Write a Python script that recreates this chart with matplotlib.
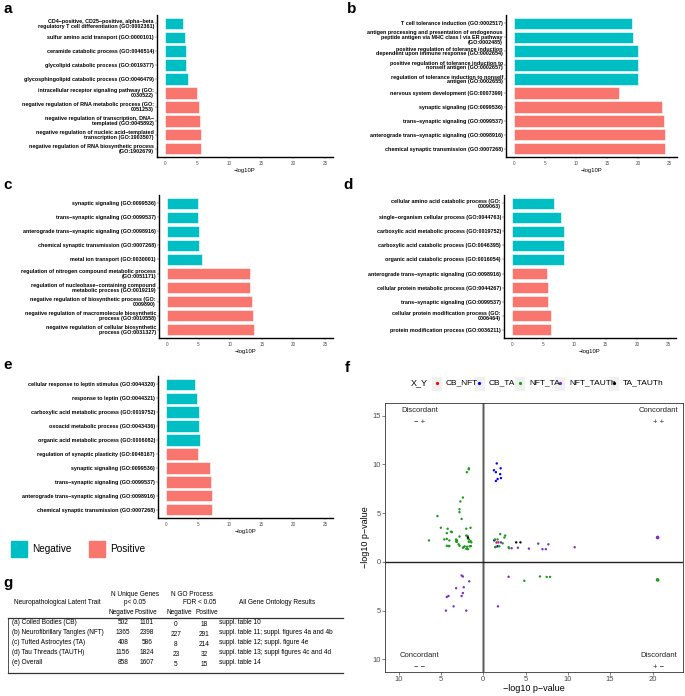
import numpy as np
import matplotlib

matplotlib.use("Agg")
import matplotlib.pyplot as plt
from matplotlib.patches import Rectangle
from matplotlib.lines import Line2D

plt.rcParams['font.family'] = ['Liberation Sans', 'DejaVu Sans']

# --- bar panel data (top to bottom), -log10P ---
labels_a = [
    "CD4\u2212positive, CD25\u2212positive, alpha\u2212beta\nregulatory T cell differentiation (GO:0002361)",
    "sulfur amino acid transport (GO:0000101)",
    "ceramide catabolic process (GO:0046514)",
    "glycolipid catabolic process (GO:0019377)",
    "glycosphingolipid catabolic process (GO:0046479)",
    "intracellular receptor signaling pathway (GO:\n0030522)",
    "negative regulation of RNA metabolic process (GO:\n0051253)",
    "negative regulation of transcription, DNA\u2212\ntemplated (GO:0045892)",
    "negative regulation of nucleic acid\u2212templated\ntranscription (GO:1903507)",
    "negative regulation of RNA biosynthetic process\n(GO:1902679)",
]
values_a = [2.8, 3.1, 3.35, 3.35, 3.55, 5.07, 5.28, 5.5, 5.55, 5.7]

labels_b = [
    "T cell tolerance induction (GO:0002517)",
    "antigen processing and presentation of endogenous\npeptide antigen via MHC class I via ER pathway\n(GO:0002485)",
    "positive regulation of tolerance induction\ndependent upon immune response (GO:0002654)",
    "positive regulation of tolerance induction to\nnonself antigen (GO:0002657)",
    "regulation of tolerance induction to nonself\nantigen (GO:0002655)",
    "nervous system development (GO:0007399)",
    "synaptic signaling (GO:0099536)",
    "trans\u2212synaptic signaling (GO:0099537)",
    "anterograde trans\u2212synaptic signaling (GO:0098916)",
    "chemical synaptic transmission (GO:0007268)",
]
values_b = [18.95, 19.2, 20.0, 20.0, 20.0, 17.0, 23.9, 24.15, 24.3, 24.3]

labels_c = [
    "synaptic signaling (GO:0099536)",
    "trans\u2212synaptic signaling (GO:0099537)",
    "anterograde trans\u2212synaptic signaling (GO:0098916)",
    "chemical synaptic transmission (GO:0007268)",
    "metal ion transport (GO:0030001)",
    "regulation of nitrogen compound metabolic process\n(GO:0051171)",
    "regulation of nucleobase\u2212containing compound\nmetabolic process (GO:0019219)",
    "negative regulation of biosynthetic process (GO:\n0009890)",
    "negative regulation of macromolecule biosynthetic\nprocess (GO:0010558)",
    "negative regulation of cellular biosynthetic\nprocess (GO:0031327)",
]
values_c = [4.85, 4.9, 5.0, 5.0, 5.6, 13.1, 13.1, 13.5, 13.55, 13.8]

labels_d = [
    "cellular amino acid catabolic process (GO:\n0009063)",
    "single\u2212organism cellular process (GO:0044763)",
    "carboxylic acid metabolic process (GO:0019752)",
    "carboxylic acid catabolic process (GO:0046395)",
    "organic acid catabolic process (GO:0016054)",
    "anterograde trans\u2212synaptic signaling (GO:0098916)",
    "cellular protein metabolic process (GO:0044267)",
    "trans\u2212synaptic signaling (GO:0099537)",
    "cellular protein modification process (GO:\n0006464)",
    "protein modification process (GO:0036211)",
]
values_d = [6.77, 7.8, 8.35, 8.4, 8.4, 5.67, 5.72, 5.72, 6.2, 6.2]

labels_e = [
    "cellular response to leptin stimulus (GO:0044320)",
    "response to leptin (GO:0044321)",
    "carboxylic acid metabolic process (GO:0019752)",
    "oxoacid metabolic process (GO:0043436)",
    "organic acid metabolic process (GO:0006082)",
    "regulation of synaptic plasticity (GO:0048167)",
    "synaptic signaling (GO:0099536)",
    "trans\u2212synaptic signaling (GO:0099537)",
    "anterograde trans\u2212synaptic signaling (GO:0098916)",
    "chemical synaptic transmission (GO:0007268)",
]
values_e = [4.5, 4.8, 5.15, 5.15, 5.3, 5.0, 6.9, 7.0, 7.3, 7.3]

directions = ["Negative"] * 5 + ["Positive"] * 5
dir_colors = {"Negative": "#00BFC4", "Positive": "#F8766D"}

# --- panel f scatter data: x = -log10 p (signed by X), y = -log10 p (signed by Y) ---
cb_nft_x = [1.55]
cb_nft_y = [2.0]

cb_ta_x = [1.6, 2.06, 1.27, 1.5, 2.0, 2.1, 1.7, 1.5, 1.3, 1.7]
cb_ta_y = [10.1, 9.6, 9.4, 9.2, 9.0, 8.6, 8.5, 8.3, 2.2, 1.6]

nft_ta_x = [-1.7, -1.7, -1.93, -2.4, -2.7, -2.8, -2.8, -2.55, -5.4, -5.0,
            -4.2, -3.8, -3.7, -4.3, -2.0, -1.5, -6.4, -4.6, -4.3, -4.0,
            -3.2, -3.1, -2.8, -2.0, -1.85, -1.7, -1.5, -1.7, -1.4, -1.8,
            -4.3, -4.1, -4.0, -2.9, -2.8, -2.3, -2.2, -2.0, -1.9, -1.8,
            -2.4, -1.6, -1.45, -3.2, -3.1,
            2.0, 2.6, 2.5, 1.4, 1.7, 2.3, 1.4, 1.9, 3.0, 3.05, 1.5,
            4.86, 6.7, 7.5, 7.9, 20.6]
nft_ta_y = [9.6, 9.5, 9.2, 6.6, 6.2, 5.4, 5.1, 4.4, 4.7, 3.5,
            3.4, 3.1, 3.05, 2.95, 3.4, 3.5, 2.2, 2.3, 2.35, 2.2,
            2.3, 2.2, 2.6, 2.7, 2.65, 2.3, 2.15, 2.05, 2.0, 2.4,
            1.65, 1.63, 1.62, 1.8, 1.65, 1.5, 1.6, 1.35, 1.55, 1.3,
            1.45, 1.6, 1.62, 2.1, 2.05,
            2.85, 2.7, 2.5, 2.3, 2.3, 1.9, 1.5, 1.6, 1.5, 1.4, 1.55,
            -1.94, -1.5, -1.55, -1.55, -1.85]

nft_tauth_x = [1.8, 2.1, 3.36, 4.1, 5.4, 6.5, 7.7, 7.0, 7.4, 10.8, 20.6,
               -2.55, -2.4, -1.65, -3.2, -2.3, -4.1, -4.3, -2.4, -2.55,
               -3.5, -4.4, -2.0, 3.0, 1.74]
nft_tauth_y = [2.0, 2.0, 1.4, 1.45, 1.36, 1.87, 1.8, 1.3, 1.3, 1.5, 2.5,
               -1.4, -1.5, -2.0, -2.7, -2.6, -3.5, -3.6, -3.2, -3.5,
               -4.56, -5.0, -5.0, -1.53, -4.56]

ta_tauth_x = [-1.8, 3.9, 4.4]
ta_tauth_y = [2.5, 2.0, 2.0]

pair_names = ["CB_NFT", "CB_TA", "NFT_TA", "NFT_TAUTh", "TA_TAUTh"]
pair_colors = ["#FF0000", "#0000FF", "#1E9A1E", "#7B2FBE", "#000000"]

# --- panel g table data ---
traits = ["(a) Coiled Bodies (CB)", "(b) Neurofibrillary Tangles (NFT)",
          "(c) Tufted Astrocytes (TA)", "(d) Tau Threads (TAUTH)", "(e) Overall"]
genes_neg = [502, 1365, 408, 1156, 858]
genes_pos = [1101, 2398, 586, 1824, 1607]
go_neg = [0, 227, 8, 23, 5]
go_pos = [18, 291, 214, 32, 15]
results_ref = ["suppl. table 10", "suppl. table 11; suppl. figures 4a and 4b",
               "suppl. table 12; suppl. figure 4e", "suppl. table 13; suppl figures 4c and 4d",
               "suppl. table 14"]

W, H = 685, 696
fig = plt.figure(figsize=(W / 100, H / 100), dpi=100)


def px_box(l, t, r, b):
    return [l / W, 1 - b / H, (r - l) / W, (b - t) / H]


def bar_panel(box, labels, values, letter, letter_xy):
    ax = fig.add_axes(px_box(*box))
    pos = np.arange(len(values))
    ax.barh(pos, values, height=0.82, color=[dir_colors[d] for d in directions],
            edgecolor="white", linewidth=0.4)
    ax.set_yticks(pos)
    ax.set_yticklabels(labels, fontsize=3.9, fontweight="bold", linespacing=0.95)
    ax.set_ylim(9.6, -0.6)
    ax.set_xlim(-1.25, 26.25)
    ax.set_xticks([0, 5, 10, 15, 20, 25])
    ax.tick_params(axis="x", labelsize=3.3, labelcolor="#4d4d4d", length=1.2,
                   width=0.3, pad=1.5, color="#4d4d4d")
    ax.tick_params(axis="y", length=1.2, width=0.3, pad=1, color="#333333")
    ax.set_xlabel("\u2212log10P", fontsize=4.2, labelpad=1.5)
    for s in ["top", "right"]:
        ax.spines[s].set_visible(False)
    for s in ["left", "bottom"]:
        ax.spines[s].set_linewidth(1.0)
    fig.text(letter_xy[0] / W, 1 - letter_xy[1] / H, letter, fontsize=11,
             fontweight="bold", ha="left", va="center")
    return ax


bar_panel((157, 15, 333, 157), labels_a, values_a, "a", (4, 9))
bar_panel((506, 15, 677, 157), labels_b, values_b, "b", (347, 9))
bar_panel((159, 195, 333, 338), labels_c, values_c, "c", (3, 185))
bar_panel((504, 195, 676, 338), labels_d, values_d, "d", (343, 185))
bar_panel((158, 376, 333, 518), labels_e, values_e, "e", (3, 365))

# legend for bar panels
for x0, name in [(11, "Negative"), (89, "Positive")]:
    fig.patches.append(Rectangle((x0 / W, 1 - 557 / H), 16 / W, 16 / H,
                                 transform=fig.transFigure, color=dir_colors[name]))
    fig.text((x0 + 21) / W, 1 - 549 / H, name, fontsize=7.2, ha="left", va="center")

# --- panel f ---
axf = fig.add_axes(px_box(385, 403, 683, 672))
series = [(cb_nft_x, cb_nft_y), (cb_ta_x, cb_ta_y), (nft_ta_x, nft_ta_y),
          (nft_tauth_x, nft_tauth_y), (ta_tauth_x, ta_tauth_y)]
for (xs, ys), col in zip(series, pair_colors):
    xs = np.array(xs)
    ys = np.array(ys)
    sizes = np.where(xs > 20, 7, 3)
    axf.scatter(xs, ys, s=sizes, color=col, linewidths=0, zorder=3)
axf.axvline(0, color="#b0b0b0", linewidth=2.2, zorder=1)
axf.axvline(0, color="#555555", linewidth=0.7, zorder=2)
axf.axhline(0, color="#222222", linewidth=1.0, zorder=2)
axf.set_xlim(-11.6, 23.6)
axf.set_ylim(-11.3, 16.3)
axf.set_xticks([-10, -5, 0, 5, 10, 15, 20])
axf.set_xticklabels(["10", "5", "0", "5", "10", "15", "20"])
axf.set_yticks([-10, -5, 0, 5, 10, 15])
axf.set_yticklabels(["10", "5", "0", "5", "10", "15"])
axf.tick_params(labelsize=5.5, labelcolor="#4d4d4d", length=2, width=0.5,
                color="#4d4d4d", pad=1)
for s in axf.spines.values():
    s.set_linewidth(0.6)
    s.set_color("#333333")
axf.set_xlabel("\u2212log10 p\u2212value", fontsize=6.5, labelpad=0.5)
axf.set_ylabel("\u2212log10 p\u2212value", fontsize=6.5, labelpad=1.5)
quad_text = [(-7.5, 15.5, "Discordant", "\u2212 +"), (20.7, 15.5, "Concordant", "+ +"),
             (-7.5, -9.6, "Concordant", "\u2212 \u2212"), (20.7, -9.6, "Discordant", "+ \u2212")]
for qx, qy, word, sign in quad_text:
    axf.text(qx, qy, word, fontsize=5.5, ha="center", va="center", color="#222222")
    axf.text(qx, qy - 1.2, sign, fontsize=5.5, ha="center", va="center", color="#222222")
fig.text(345 / W, 1 - 368 / H, "f", fontsize=11, fontweight="bold", ha="left", va="center")

# legend for panel f
leg_y = 383
fig.text(411 / W, 1 - leg_y / H, "X_Y", fontsize=6.5, ha="left", va="center")
key_x = [432, 475, 515, 555, 609]
for kx, name, col in zip(key_x, pair_names, pair_colors):
    fig.patches.append(Rectangle((kx / W, 1 - (leg_y + 6.5) / H), 9 / W, 13 / H,
                                 transform=fig.transFigure, color="#f0f0f0"))
    fig.lines.append(Line2D([(kx + 4.5) / W], [1 - leg_y / H], marker="o",
                            markersize=1.3, color=col, linestyle="none",
                            transform=fig.transFigure))
    fig.text((kx + 14) / W, 1 - leg_y / H, name, fontsize=6, ha="left", va="center")

# --- panel g table ---
fig.text(3 / W, 1 - 583 / H, "g", fontsize=11, fontweight="bold", ha="left", va="center")
tfs = 4.7
fig.text(57 / W, 1 - 603 / H, "Neuropathological Latent Trait", fontsize=tfs, ha="center", va="center")
fig.text(135 / W, 1 - 594 / H, "N Unique Genes", fontsize=tfs, ha="center", va="center")
fig.text(135 / W, 1 - 602.5 / H, "p< 0.05", fontsize=tfs, ha="center", va="center")
fig.text(192 / W, 1 - 594 / H, "N GO Process", fontsize=tfs, ha="center", va="center")
fig.text(200 / W, 1 - 602.5 / H, "FDR < 0.05", fontsize=tfs, ha="center", va="center")
fig.text(277 / W, 1 - 603 / H, "All Gene Ontology Results", fontsize=tfs, ha="center", va="center")
for cx, word in [(121.5, "Negative"), (145.5, "Positive"), (179, "Negative"), (207, "Positive")]:
    fig.text(cx / W, 1 - 613 / H, word, fontsize=tfs, ha="center", va="center")
fig.lines.append(Line2D([8 / W, 343 / W], [1 - 618 / H, 1 - 618 / H], color="#333333",
                        linewidth=0.9, transform=fig.transFigure))
fig.lines.append(Line2D([8 / W, 343 / W], [1 - 673 / H, 1 - 673 / H], color="#333333",
                        linewidth=0.9, transform=fig.transFigure))
fig.lines.append(Line2D([8 / W, 8 / W], [1 - 618 / H, 1 - 673 / H], color="#333333",
                        linewidth=0.6, transform=fig.transFigure))
row_y = [623, 632.5, 642.5, 652.5, 662.5]
for i, ry in enumerate(row_y):
    fig.text(12 / W, 1 - ry / H, traits[i], fontsize=tfs, ha="left", va="center")
    fig.text(123 / W, 1 - ry / H, str(genes_neg[i]), fontsize=tfs, ha="center", va="center")
    fig.text(147 / W, 1 - ry / H, str(genes_pos[i]), fontsize=tfs, ha="center", va="center")
    fig.text(176 / W, 1 - (ry + 1.5) / H, str(go_neg[i]), fontsize=tfs, ha="center", va="center")
    fig.text(204 / W, 1 - (ry + 1.5) / H, str(go_pos[i]), fontsize=tfs, ha="center", va="center")
    fig.text(219 / W, 1 - ry / H, results_ref[i], fontsize=tfs, ha="left", va="center")

fig.savefig("out.png", dpi=100)
